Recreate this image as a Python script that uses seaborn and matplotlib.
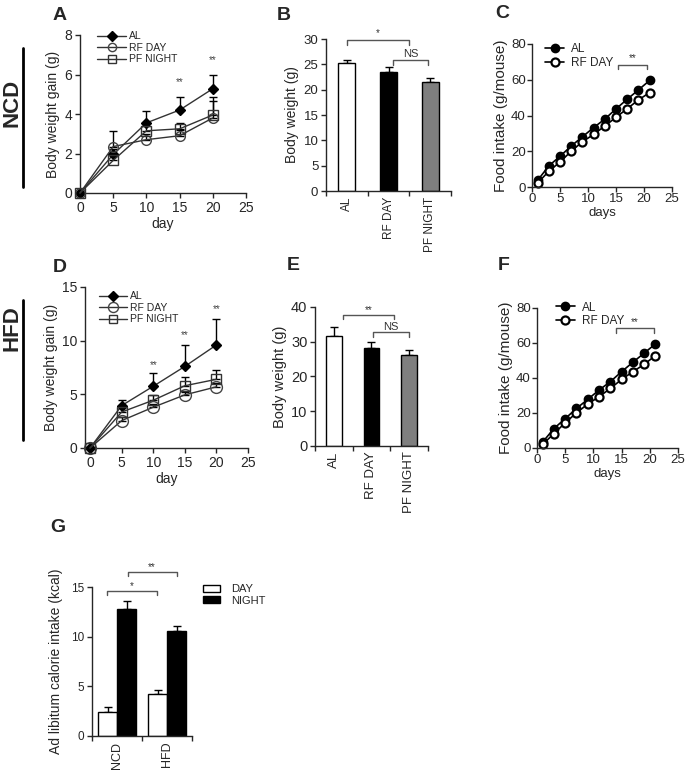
import numpy as np
import pandas as pd
import matplotlib
matplotlib.use("Agg")
import matplotlib.pyplot as plt
from matplotlib.lines import Line2D
import seaborn as sns

sns.set_theme(style="ticks")
plt.rcParams['font.family'] = ['Liberation Sans', 'DejaVu Sans']
plt.rcParams['axes.linewidth'] = 1.0
plt.rcParams['xtick.major.size'] = 3.5
plt.rcParams['ytick.major.size'] = 3.5
plt.rcParams['xtick.major.width'] = 1.0
plt.rcParams['ytick.major.width'] = 1.0

# ---------------- data ----------------
gain_days = [0, 5, 10, 15, 20]
groups3 = ["AL", "RF DAY", "PF NIGHT"]

A_AL = [0, 1.95, 3.55, 4.2, 5.28]
A_AL_err = [0, 0.3, 0.6, 0.67, 0.7]
A_RF = [0, 2.35, 2.7, 2.9, 3.8]
A_RF_err = [0, 0.8, 0.3, 0.3, 0.85]
A_PF = [0, 1.65, 3.15, 3.25, 3.95]
A_PF_err = [0, 0.3, 0.25, 0.3, 0.9]

D_AL = [0, 3.95, 5.75, 7.6, 9.6]
D_AL_err = [0, 0.55, 1.2, 1.95, 2.45]
D_RF = [0, 2.55, 3.8, 4.95, 5.7]
D_RF_err = [0, 0.3, 0.3, 0.3, 0.4]
D_PF = [0, 3.35, 4.45, 5.8, 6.4]
D_PF_err = [0, 0.5, 0.45, 0.8, 0.9]

B_weight = [25.3, 23.4, 21.5]
B_err = [0.5, 1.1, 0.8]
E_weight = [31.6, 28.2, 26.3]
E_err = [2.6, 1.7, 1.3]

food_days = [1, 3, 5, 7, 9, 11, 13, 15, 17, 19, 21]
C_AL = [3.7, 11.8, 17.2, 22.9, 28.1, 33.2, 38.0, 43.7, 49.1, 54.3, 59.6]
C_RF = [2.2, 8.8, 14.0, 20.0, 25.3, 29.4, 34.1, 39.0, 43.8, 48.7, 52.8]
F_AL = [3.4, 11.1, 16.8, 22.6, 27.8, 33.1, 37.9, 43.6, 49.0, 54.2, 59.5]
F_RF = [2.1, 8.2, 14.4, 20.1, 25.1, 29.3, 34.0, 39.2, 43.6, 47.8, 52.8]

diets = ["NCD", "HFD"]
phases = ["DAY", "NIGHT"]
G_DAY = [2.4, 4.2]
G_DAY_err = [0.5, 0.4]
G_NIGHT = [12.75, 10.55]
G_NIGHT_err = [0.85, 0.55]

# ---------------- figure ----------------
W, H = 690, 776
fig = plt.figure(figsize=(W / 100, H / 100), dpi=100)


def add_ax(left, right, top, bottom):
    return fig.add_axes([left / W, 1 - bottom / H, (right - left) / W, (bottom - top) / H])


def gain_panel(ax, series, errs, ylim, yticks, xlim, ms_circle, stars):
    styles = [
        dict(marker="D", markerfacecolor="black", markeredgecolor="black", ms=5.5),
        dict(marker="o", markerfacecolor="none", markeredgecolor="#444444", ms=ms_circle),
        dict(marker="s", markerfacecolor="none", markeredgecolor="#333333", ms=7),
    ]
    for name, vals, err, st in zip(groups3, series, errs, styles):
        ax.errorbar(gain_days, vals, yerr=[np.zeros(len(err)), err], fmt="none",
                    ecolor="black", elinewidth=1, capsize=3, capthick=1, clip_on=False, zorder=2)
        sns.lineplot(x=gain_days, y=vals, ax=ax, color="#333333", linewidth=1,
                     marker=st["marker"], markersize=st["ms"],
                     markerfacecolor=st["markerfacecolor"], markeredgecolor=st["markeredgecolor"],
                     markeredgewidth=1, label=name, clip_on=False, zorder=3)
    ax.set_xlim(*xlim)
    ax.set_ylim(*ylim)
    ax.set_xticks([0, 5, 10, 15, 20, 25])
    ax.set_yticks(yticks)
    ax.tick_params(labelsize=10, pad=2)
    ax.set_xlabel("day", fontsize=10, labelpad=2)
    ax.set_ylabel("Body weight gain (g)", fontsize=10, labelpad=3)
    for (x, y) in stars:
        ax.text(x, y, "**", ha="center", va="center", fontsize=7, color="#444444")
    sns.despine(ax=ax)


def bar_panel(ax, vals, err, ylim, yticks, fs, yfs):
    df = pd.DataFrame({"group": groups3, "w": vals})
    sns.barplot(data=df, x="group", y="w", hue="group", ax=ax, width=0.41,
                palette=["white", "black", "#7f7f7f"], edgecolor="black", linewidth=1,
                legend=False, errorbar=None, zorder=2)
    ax.errorbar([0, 1, 2], vals, yerr=[np.zeros(3), err], fmt="none", ecolor="black",
                elinewidth=1, capsize=3, capthick=1, zorder=1)
    ax.set_xlim(-0.5, 2.5)
    ax.set_ylim(*ylim)
    ax.set_yticks(yticks)
    ax.set_xticks([-0.5, 0.5, 1.5, 2.5], labels=[])
    ax.set_xticks([0, 1, 2], labels=groups3, minor=True)
    ax.tick_params(axis="x", which="minor", length=0, rotation=90, labelsize=fs, pad=4)
    ax.tick_params(axis="y", labelsize=fs + 1, pad=2)
    ax.set_xlabel("")
    ax.set_ylabel("Body weight (g)", fontsize=yfs, labelpad=3)
    sns.despine(ax=ax)


def bracket(ax, x0, x1, y, drop, text, ty, fs=7, color="#555555"):
    ax.plot([x0, x0, x1, x1], [y - drop, y, y, y - drop], color=color, lw=1, clip_on=False)
    ax.text((x0 + x1) / 2, ty, text, ha="center", va="center", fontsize=fs, color="#333333")


def food_panel(ax, al, rf, stars_x0, stars_x1, leg_anchor):
    sns.lineplot(x=food_days, y=al, ax=ax, color="black", linewidth=1.2, marker="o",
                 markersize=5.8, markerfacecolor="black", markeredgecolor="black",
                 markeredgewidth=1.2, label="AL", clip_on=False)
    sns.lineplot(x=food_days, y=rf, ax=ax, color="black", linewidth=1.2, marker="o",
                 markersize=5.8, markerfacecolor="white", markeredgecolor="black",
                 markeredgewidth=1.6, label="RF DAY", clip_on=False)
    ax.set_xlim(0, 25)
    ax.set_ylim(0, 80)
    ax.set_xticks([0, 5, 10, 15, 20, 25])
    ax.set_yticks([0, 20, 40, 60, 80])
    ax.tick_params(labelsize=9.5, pad=1)
    ax.set_xlabel("days", fontsize=9.5, labelpad=1)
    ax.set_ylabel("Food intake (g/mouse)", fontsize=11, labelpad=2)
    bracket(ax, stars_x0, stars_x1, 68.4, 2.5, "**", 72, fs=7)
    ax.legend(loc="upper left", bbox_to_anchor=leg_anchor, frameon=False, fontsize=8.5,
              handlelength=1.6, handletextpad=0.6, labelspacing=0.15, borderaxespad=0)
    sns.despine(ax=ax)


# ---- Panel A ----
axA = add_ax(80, 246, 35, 193)
gain_panel(axA, [A_AL, A_RF, A_PF], [A_AL_err, A_RF_err, A_PF_err], (0, 8), [0, 2, 4, 6, 8],
           (0, 25), 7, [(15, 5.6), (20, 6.75)])
axA.legend(loc="upper left", bbox_to_anchor=(0.08, 1.05), frameon=False, fontsize=7.5,
           handlelength=2.7, handletextpad=0.3, labelspacing=0.15, borderaxespad=0,
           markerscale=0.85)

# ---- Panel B ----
axB = add_ax(326, 451, 39, 191)
bar_panel(axB, B_weight, B_err, (0, 30), [0, 5, 10, 15, 20, 25, 30], 8.5, 10)
bracket(axB, 0, 1.5, 29.8, 1.0, "*", 31.2)
bracket(axB, 1.1, 1.95, 25.8, 0.9, "NS", 27.0, fs=8)

# ---- Panel C ----
axC = add_ax(532, 672, 44, 187)
food_panel(axC, C_AL, C_RF, 15.3, 20.5, (0.06, 1.04))

# ---- Panel D ----
axD = add_ax(85, 248, 287, 448)
gain_panel(axD, [D_AL, D_RF, D_PF], [D_AL_err, D_RF_err, D_PF_err], (0, 15), [0, 5, 10, 15],
           (-0.8, 25), 8.5, [(10, 7.7), (15, 10.5), (20, 12.95)])
axD.legend(loc="upper left", bbox_to_anchor=(0.06, 1.0), frameon=False, fontsize=7.5,
           handlelength=2.7, handletextpad=0.3, labelspacing=0.15, borderaxespad=0,
           markerscale=0.85)

# ---- Panel E ----
axE = add_ax(315, 428, 307, 446)
bar_panel(axE, E_weight, E_err, (0, 40), [0, 10, 20, 30, 40], 9.5, 10.5)
bracket(axE, 0.25, 1.59, 37.7, 1.2, "**", 39.0)
bracket(axE, 1.05, 2.0, 32.7, 1.2, "NS", 34.2, fs=8)

# ---- Panel F ----
axF = add_ax(537, 678, 308, 448)
food_panel(axF, F_AL, F_RF, 14.0, 20.8, (0.1, 1.08))

# ---- Panel G ----
axG = add_ax(92, 192, 587, 736)
dfG = pd.DataFrame({"diet": diets * 2, "phase": ["DAY"] * 2 + ["NIGHT"] * 2,
                    "kcal": G_DAY + G_NIGHT})
sns.barplot(data=dfG, x="diet", y="kcal", hue="phase", ax=axG, width=0.76,
            palette=["white", "black"], edgecolor="black", linewidth=1, errorbar=None, zorder=2)
off = 0.19
axG.errorbar(np.arange(2) - off, G_DAY, yerr=[np.zeros(2), G_DAY_err], fmt="none",
             ecolor="black", elinewidth=1, capsize=3, capthick=1, zorder=1)
axG.errorbar(np.arange(2) + off, G_NIGHT, yerr=[np.zeros(2), G_NIGHT_err], fmt="none",
             ecolor="black", elinewidth=1, capsize=3, capthick=1, zorder=1)
axG.set_xlim(-0.5, 1.5)
axG.set_ylim(0, 15)
axG.set_yticks([0, 5, 10, 15])
axG.set_xticks([-0.5, 0.5, 1.5], labels=[])
axG.set_xticks([0, 1], labels=diets, minor=True)
axG.tick_params(axis="x", which="minor", length=0, rotation=90, labelsize=9, pad=4)
axG.tick_params(axis="y", labelsize=8.5, pad=2)
axG.set_xlabel("")
axG.set_ylabel("Ad libitum calorie intake (kcal)", fontsize=10, labelpad=6)
bracket(axG, -0.21, 0.79, 14.6, 0.45, "*", 15.05)
bracket(axG, 0.21, 1.19, 16.55, 0.45, "**", 17.0)
axG.legend(loc="upper left", bbox_to_anchor=(1.07, 1.05), frameon=False, fontsize=8,
           handlelength=1.5, handleheight=0.6, handletextpad=1.0, labelspacing=0.15,
           borderaxespad=0)
for p in axG.get_legend().get_patches():
    p.set_edgecolor("black")
sns.despine(ax=axG)

# ---- panel letters ----
letters = {"A": (53, 15), "B": (277, 15), "C": (495, 14), "D": (53, 267),
           "E": (287, 266), "F": (498, 266), "G": (50, 528)}
for k, (x, y) in letters.items():
    fig.text(x / W, 1 - y / H, k, fontsize=14, fontweight="bold", va="center", ha="left")

# ---- diet labels with vertical bars ----
fig.text(12 / W, 1 - 103 / H, "NCD", fontsize=16, fontweight="bold", rotation=90,
         ha="center", va="center")
fig.add_artist(Line2D([23 / W, 23 / W], [1 - 48 / H, 1 - 187 / H], color="black", lw=2))
fig.text(12 / W, 1 - 328 / H, "HFD", fontsize=16, fontweight="bold", rotation=90,
         ha="center", va="center")
fig.add_artist(Line2D([23 / W, 23 / W], [1 - 300 / H, 1 - 440 / H], color="black", lw=2))

fig.savefig("out.png", dpi=100)
